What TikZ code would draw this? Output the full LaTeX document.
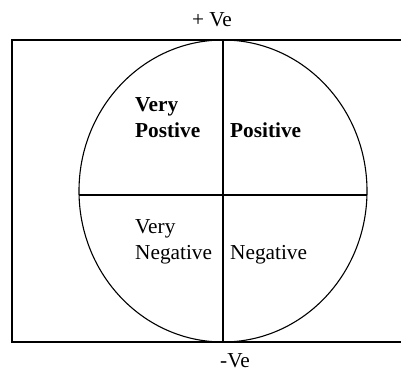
\documentclass[tikz,border=0pt]{standalone}
\usepackage{fontspec}
\setmainfont{Liberation Serif}
\usepackage{tikz}
\usetikzlibrary{shapes.geometric,positioning}

\begin{document}
\begin{tikzpicture}[
    x=1pt, y=-1pt,
    font=\fontsize{21.3}{25.5}\selectfont,
    frame/.style={line width=1.1pt},
    wheel/.style={draw, ellipse, line width=1.1pt, minimum width=288pt, minimum height=302pt, inner sep=0pt},
    axis/.style={line width=1.1pt},
    lbl/.style={align=left, inner sep=0pt, anchor=base west},
    pole/.style={inner sep=0pt, anchor=base}
]
\useasboundingbox (0,0) rectangle (401,372);

% outer frame (right side runs off the page)
\draw[frame] (402,40) -- (12,40) -- (12,342) -- (402,342);

\node[wheel] (circ) at (223,191) {};
\coordinate (midl) at (79,195);
\coordinate (midr) at (367,195);

\draw[axis] (circ.north) -- (circ.south);
\draw[axis] (midl) -- (midr);

\node[lbl, font=\fontsize{21.3}{25.5}\selectfont\bfseries] (vpos) at (135,137) {Very\\Postive};
\node[lbl, font=\fontsize{21.3}{25.5}\selectfont\bfseries] (pos) at (230,137) {Positive};
\node[lbl] (vneg) at (135,259) {Very\\Negative};
\node[lbl] (neg) at (230,259) {Negative};

\node[pole] (plusve) at (212,26.5) {+ Ve};
\node[pole] (minusve) at (235,367.5) {-Ve};
\end{tikzpicture}
\end{document}
